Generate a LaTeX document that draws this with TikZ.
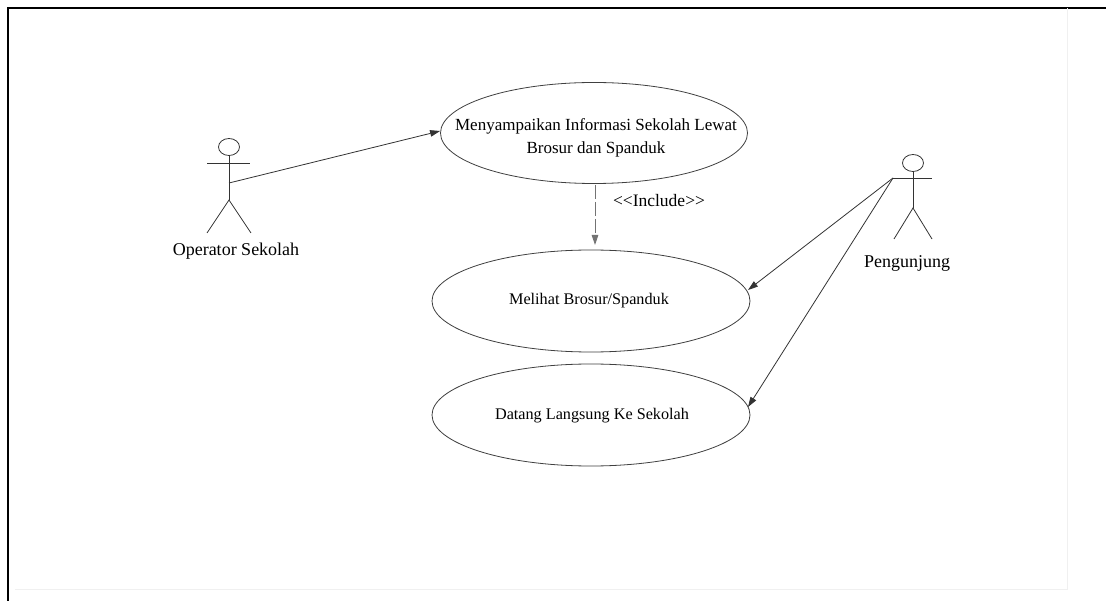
\documentclass[tikz,border=0pt]{standalone}
\usepackage{fontspec}
\setmainfont{Liberation Serif}
\usetikzlibrary{shapes.geometric,arrows.meta}
\begin{document}
\begin{tikzpicture}[x=1pt,y=-1pt,
  line/.style={draw=black!80,line width=0.8pt},
  usecase/.style={ellipse,draw=black!75,line width=0.8pt,inner sep=0pt},
  uctext/.style={inner sep=0pt,align=center},
  assoc/.style={line,-{Triangle[length=10pt,width=6.5pt]}},
  incl/.style={draw=black!55,line width=0.8pt,dash pattern=on 14pt off 3pt,
    -{Triangle[length=10pt,width=6.5pt]}},
  lbl/.style={font=\fontsize{18}{20}\selectfont,inner sep=0pt},
  head/.style={ellipse,draw=black!80,line width=0.8pt,minimum width=21pt,
    minimum height=17pt,inner sep=0pt}]
\useasboundingbox (0,0) rectangle (1106,601);
\fill[white] (0,0) rectangle (1106,601);
% page frame
\draw[line width=2.2pt] (8,601) -- (8,8) -- (1106,8);
\draw[black!6,line width=0.8pt] (15,589) -- (1067,589) -- (1067,8);

% use cases
\node[usecase,minimum width=307pt,minimum height=101pt] (uc1) at (594,133) {};
\node[uctext,font=\fontsize{17}{23.5}\selectfont] (uc1t) at (596,138)
  {Menyampaikan Informasi Sekolah Lewat\\Brosur dan Spanduk};
\node[usecase,minimum width=318pt,minimum height=102pt] (uc2) at (591,301) {};
\node[uctext,font=\fontsize{16.2}{20}\selectfont] (uc2t) at (589,301)
  {Melihat Brosur/Spanduk};
\node[usecase,minimum width=318pt,minimum height=102pt] (uc3) at (591,415) {};
\node[uctext,font=\fontsize{16.2}{20}\selectfont] (uc3t) at (592,416)
  {Datang Langsung Ke Sekolah};

% actor: Operator Sekolah
\node[head] (h1) at (229,147) {};
\coordinate (n1) at (229,200);
\coordinate (a1l) at (207,163);
\coordinate (a1r) at (250,163);
\coordinate (l1l) at (207,233);
\coordinate (l1r) at (251,233);
\coordinate (p1) at (229,183);
\draw[line] (h1.south) -- (n1);
\draw[line] (a1l) -- (a1r);
\draw[line] (l1l) -- (n1) -- (l1r);
\node[lbl] (t1) at (236,251) {Operator Sekolah};

% actor: Pengunjung
\node[head] (h2) at (913,163) {};
\coordinate (n2) at (913,208);
\coordinate (a2l) at (893,178);
\coordinate (a2r) at (932,178);
\coordinate (l2l) at (894,239);
\coordinate (l2r) at (932,239);
\draw[line] (h2.south) -- (n2);
\draw[line] (a2l) -- (a2r);
\draw[line] (l2l) -- (n2) -- (l2r);
\node[lbl] (t2) at (907,263) {Pengunjung};

% associations
\draw[assoc] (p1) -- (uc1.west |- 0,131);
\coordinate (e2) at (748,290);
\coordinate (e3) at (748,407);
\draw[assoc] (a2l) -- (e2);
\draw[assoc] (a2l) -- (e3);

% include
\coordinate (i1) at (595,185);
\coordinate (i2) at (595,245);
\draw[incl] (i1) -- (i2);
\node[lbl,font=\fontsize{17.5}{18}\selectfont] (inc) at (659,201) {<{}<Include>{}>};
\end{tikzpicture}
\end{document}
